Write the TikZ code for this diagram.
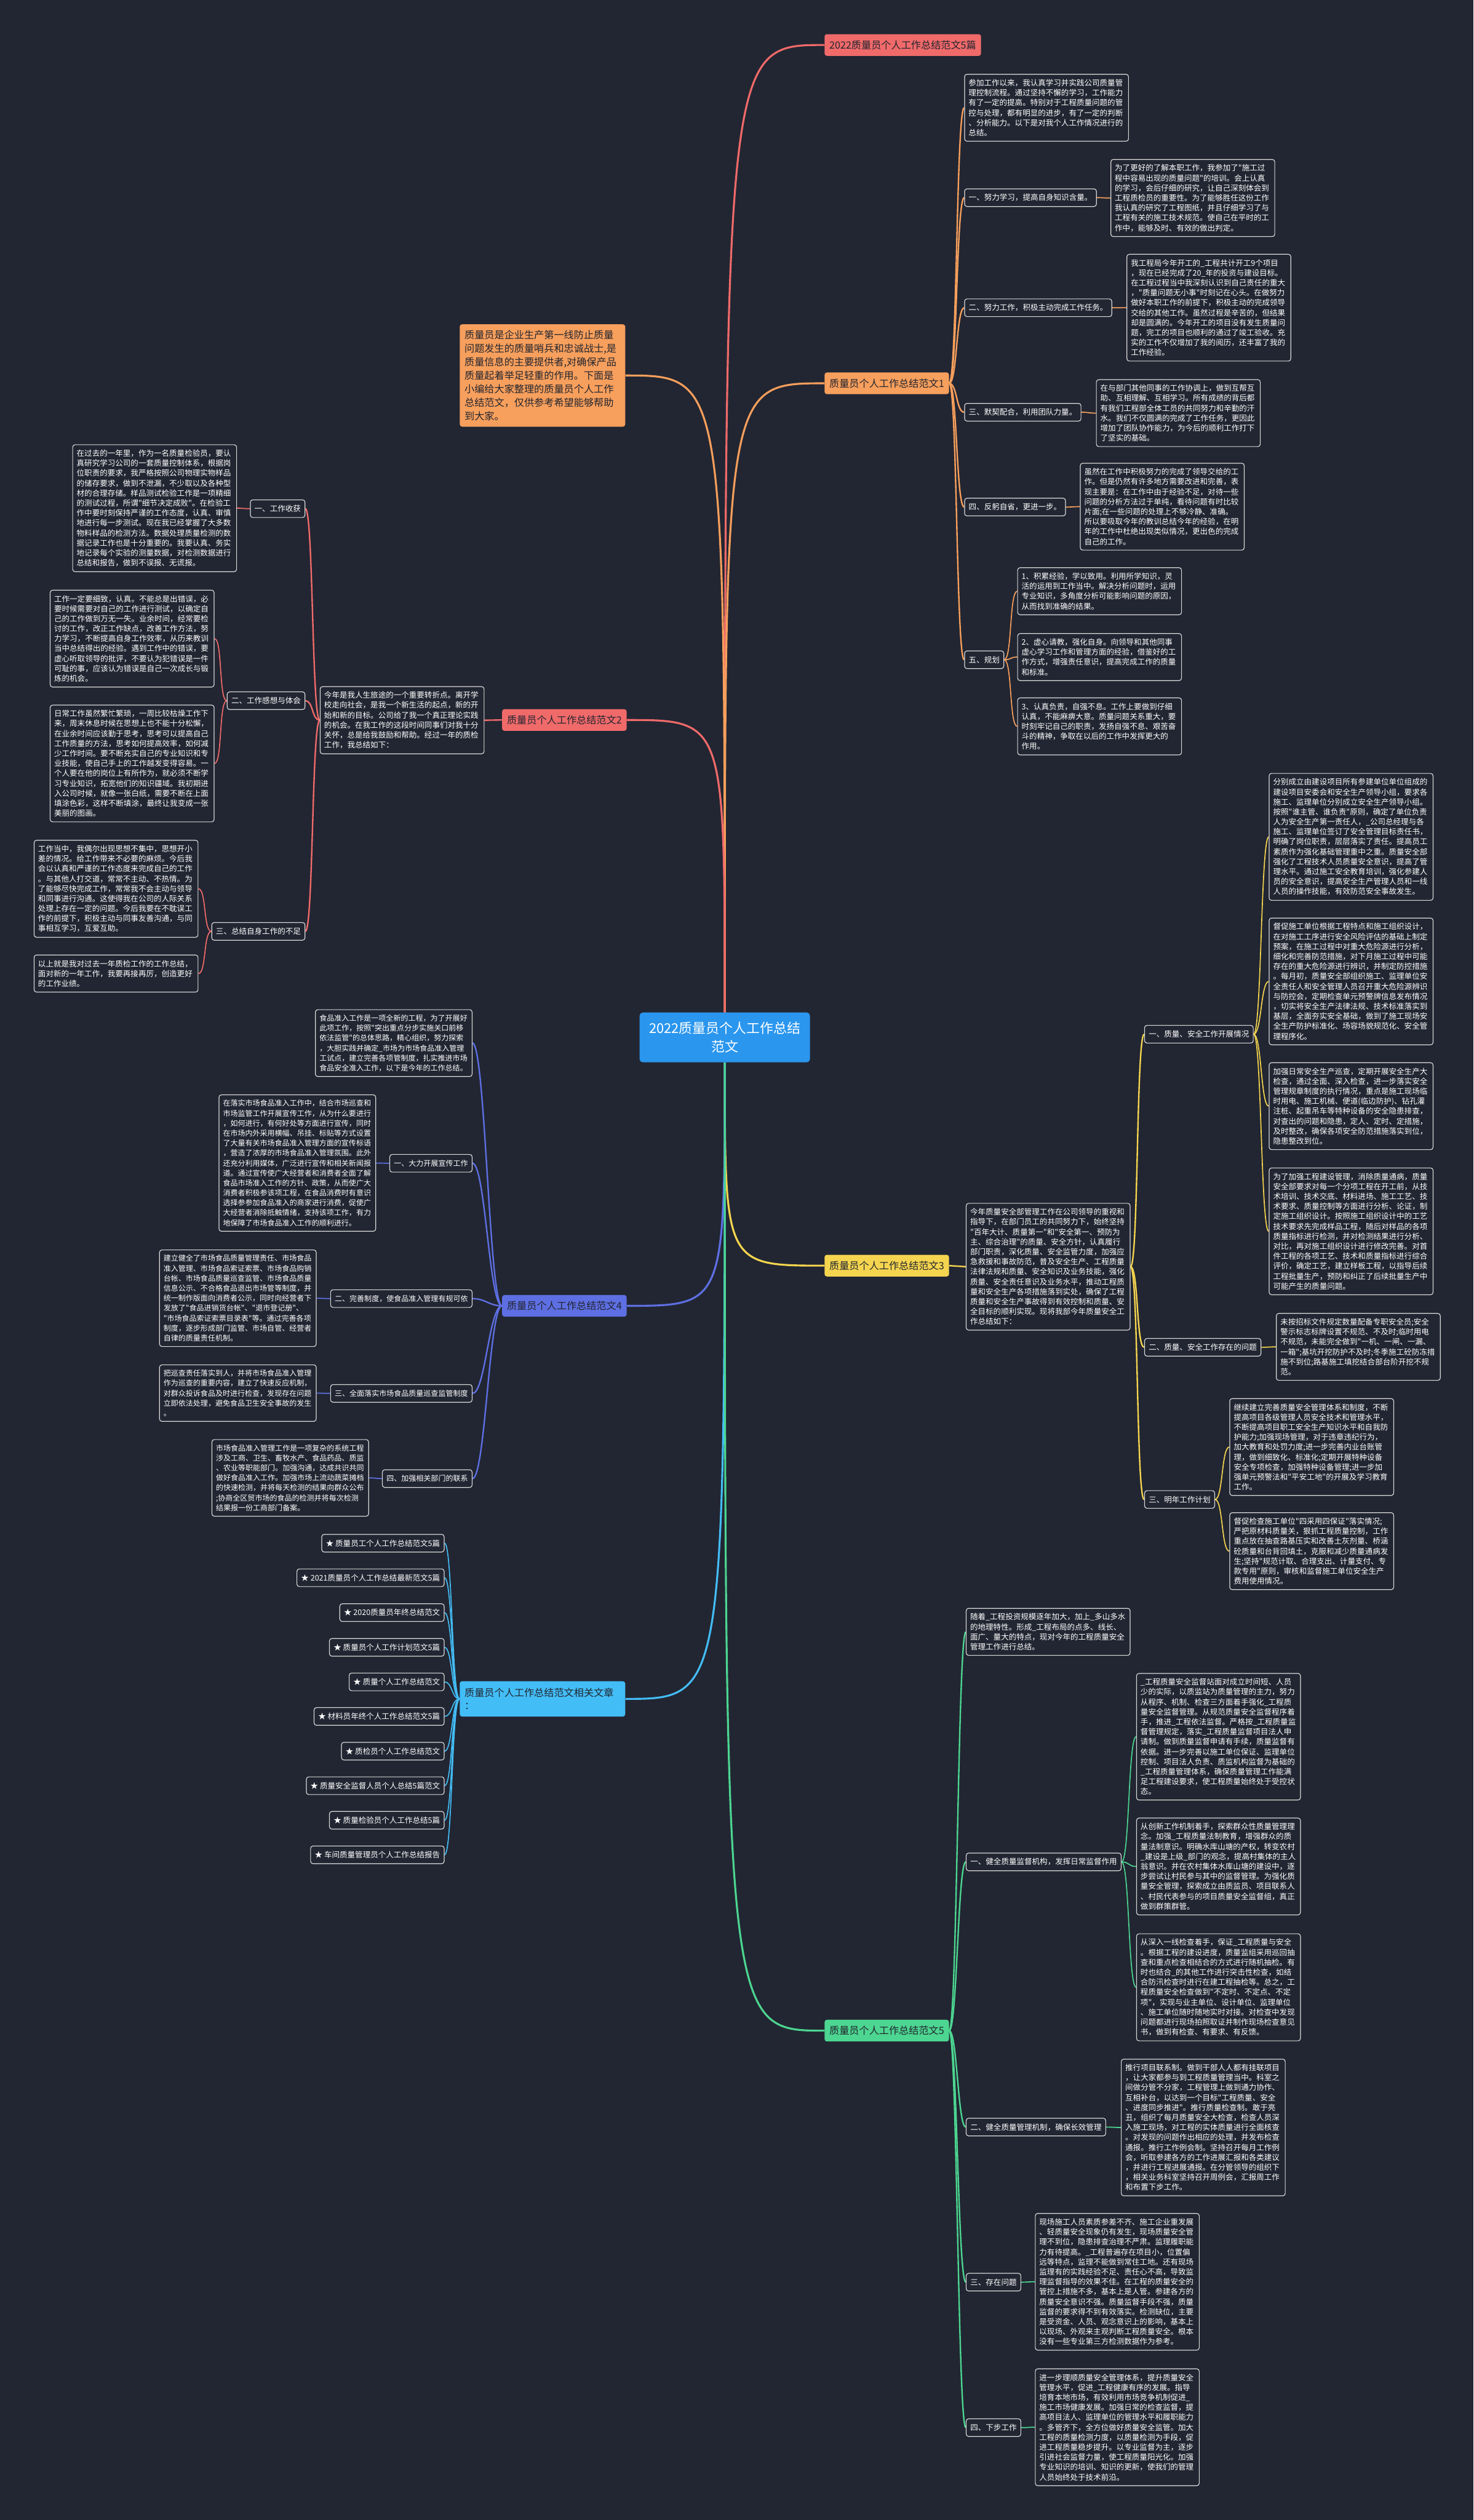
\documentclass[tikz,border=0pt]{standalone}
\usepackage{fontspec}
\setmainfont{Noto Sans CJK SC}[Ligatures=TeXOff]
\definecolor{bg}{HTML}{222632}
\definecolor{dk}{HTML}{22252F}
\definecolor{boxline}{HTML}{D8D8D8}
\definecolor{cred}{HTML}{F06A6A}
\definecolor{corange}{HTML}{F79F5C}
\definecolor{cyellow}{HTML}{F5D54F}
\definecolor{cblue}{HTML}{5E6FE3}
\definecolor{csky}{HTML}{43BDF6}
\definecolor{cgreen}{HTML}{4CD691}
\definecolor{croot}{HTML}{2A96EE}
\pgfdeclarelayer{back}
\pgfdeclarelayer{lines}
\pgfsetlayers{back,lines,main}
\newcommand\fs{\fontsize{13.66pt}{17.64pt}\selectfont}
\newcommand\fsb{\fontsize{13.1pt}{17.64pt}\selectfont}
\newcommand\fbr{\fontsize{17.6pt}{21pt}\selectfont}
\newcommand\fin{\fontsize{17.6pt}{23.8pt}\selectfont}
\newcommand\fce{\fontsize{23.9pt}{32.1pt}\selectfont}
\newcommand\frel{\fontsize{17.6pt}{23.3pt}\selectfont}
\newcommand\conR[3]{\draw[#1] (#2) .. controls +(5,0) and +(-5,0) .. (#3);}
\newcommand\conL[3]{\draw[#1] (#2) .. controls +(-5,0) and +(5,0) .. (#3);}
\newcommand\conLL[3]{\draw[#1] (#2) .. controls +(-8,0) and +(8,0) .. (#3);}
\tikzset{
 tb/.style={draw=boxline, line width=0.45mm, rounded corners=1.5mm, fill=bg, text=white, font=\fs, align=left, text width=97mm, inner xsep=2.5mm, inner ysep=3.1mm, anchor=north west},
 tbb/.style={tb, font=\fsb, text width=92.5mm},
 lb/.style={draw=boxline, line width=0.45mm, rounded corners=1.5mm, fill=bg, text=white, font=\fs, inner xsep=2.6mm, inner ysep=0mm, minimum height=11mm},
 lbb/.style={lb, font=\fsb},
 brn/.style={rounded corners=1.5mm, text=dk, font=\fbr, inner xsep=3mm, inner ysep=0mm, minimum height=13.5mm},
 rl/.style={line width=1.2mm},
 bl/.style={line width=0.9mm},
 sl/.style={line width=0.65mm}
}
\begin{document}
\begin{tikzpicture}[x=1mm,y=-1mm]
\begin{pgfonlayer}{back}
\fill[bg] (0,0) rectangle (917,1568);
\end{pgfonlayer}
\path[use as bounding box] (0,0) rectangle (917,1568);

% root and first level
\node[fill=croot, rounded corners=2mm, text=white, font=\fce, align=center, minimum width=106mm, minimum height=31mm] (root) at (451,645.5) {2022质量员个人工作总结\\范文};
\node[brn, fill=cred, anchor=west] (ttl) at (513,28) {2022质量员个人工作总结范文5篇};
\node[fill=corange, rounded corners=1.5mm, text=dk, font=\fin, align=left, text width=97mm, inner xsep=3mm, inner ysep=3.9mm, anchor=north west] (intro) at (286,201.7) {质量员是企业生产第一线防止质量\\问题发生的质量哨兵和忠诚战士,是\\质量信息的主要提供者,对确保产品\\质量起着举足轻重的作用。下面是\\小编给大家整理的质量员个人工作\\总结范文，仅供参考希望能够帮助\\到大家。};
\node[brn, fill=corange, anchor=west] (b1) at (513,238.5) {质量员个人工作总结范文1};
\node[brn, fill=cred, anchor=east] (b2) at (390,448) {质量员个人工作总结范文2};
\node[brn, fill=cyellow, anchor=west] (b3) at (513,787.5) {质量员个人工作总结范文3};
\node[brn, fill=cblue, anchor=east] (b4) at (390,812.5) {质量员个人工作总结范文4};
\node[brn, fill=csky, font=\frel, align=left, text width=97mm, minimum height=22mm, anchor=north west] (rel) at (286,1046) {质量员个人工作总结范文相关文章\\：};
\node[brn, fill=cgreen, anchor=west] (b5) at (513,1263.5) {质量员个人工作总结范文5};

% ---------- branch 1
\node[tb] (b1i) at (600,46) {参加工作以来，我认真学习并实践公司质量管\\理控制流程。通过坚持不懈的学习，工作能力\\有了一定的提高。特别对于工程质量问题的管\\控与处理，都有明显的进步，有了一定的判断\\、分析能力。以下是对我个人工作情况进行的\\总结。};
\node[lb, anchor=west] (b1l1) at (600,123) {一、努力学习，提高自身知识含量。};
\node[tb] (b1t1) at (691,99) {为了更好的了解本职工作，我参加了"施工过\\程中容易出现的质量问题"的培训。会上认真\\的学习，会后仔细的研究，让自己深刻体会到\\工程质检员的重要性。为了能够胜任这份工作\\我认真的研究了工程图纸，并且仔细学习了与\\工程有关的施工技术规范。使自己在平时的工\\作中，能够及时、有效的做出判定。};
\node[lb, anchor=west] (b1l2) at (600,191.5) {二、努力工作，积极主动完成工作任务。};
\node[tb] (b1t2) at (701,158) {我工程局今年开工的\_工程共计开工9个项目\\，现在已经完成了20\_年的投资与建设目标。\\在工程过程当中我深刻认识到自己责任的重大\\，"质量问题无小事"时刻记在心头。在做努力\\做好本职工作的前提下，积极主动的完成领导\\交给的其他工作。虽然过程是辛苦的，但结果\\却是圆满的。今年开工的项目没有发生质量问\\题，完工的项目也顺利的通过了竣工验收。充\\实的工作不仅增加了我的阅历，还丰富了我的\\工作经验。};
\node[lb, anchor=west] (b1l3) at (600,256.5) {三、默契配合，利用团队力量。};
\node[tb] (b1t3) at (682,236) {在与部门其他同事的工作协调上，做到互帮互\\助、互相理解、互相学习。所有成绩的背后都\\有我们工程部全体工员的共同努力和辛勤的汗\\水。我们不仅圆满的完成了工作任务，更因此\\增加了团队协作能力，为今后的顺利工作打下\\了坚实的基础。};
\node[lb, anchor=west] (b1l4) at (600,315.5) {四、反躬自省，更进一步。};
\node[tb] (b1t4) at (672,288) {虽然在工作中积极努力的完成了领导交给的工\\作。但是仍然有许多地方需要改进和完善，表\\现主要是：在工作中由于经验不足，对待一些\\问题的分析方法过于单纯，看待问题有时比较\\片面;在一些问题的处理上不够冷静、准确。\\所以要吸取今年的教训总结今年的经验，在明\\年的工作中杜绝出现类似情况，更出色的完成\\自己的工作。};
\node[lb, anchor=west] (b1l5) at (600,410.5) {五、规划};
\node[tb] (b1t51) at (633,353) {1、积累经验，学以致用。利用所学知识，灵\\活的运用到工作当中。解决分析问题时，运用\\专业知识，多角度分析可能影响问题的原因，\\从而找到准确的结果。};
\node[tb] (b1t52) at (633,394) {2、虚心请教，强化自身。向领导和其他同事\\虚心学习工作和管理方面的经验，借鉴好的工\\作方式，增强责任意识，提高完成工作的质量\\和标准。};
\node[tb] (b1t53) at (633,434) {3、认真负责，自强不息。工作上要做到仔细\\认真，不能麻痹大意。质量问题关系重大，要\\时刻牢记自己的职责，发扬自强不息、艰苦奋\\斗的精神，争取在以后的工作中发挥更大的\\作用。};

% ---------- branch 2
\node[tb] (b2i) at (199,427) {今年是我人生旅途的一个重要转折点。离开学\\校走向社会，是我一个新生活的起点，新的开\\始和新的目标。公司给了我一个真正理论实践\\的机会。在我工作的这段时间同事们对我十分\\关怀，总是给我鼓励和帮助。经过一年的质检\\工作，我总结如下：};
\node[lb, anchor=east] (b2l1) at (190,316.5) {一、工作收获};
\node[tb] (b2t1) at (45,276.5) {在过去的一年里，作为一名质量检验员，要认\\真研究学习公司的一套质量控制体系，根据岗\\位职责的要求，我严格按照公司物理实物样品\\的储存要求，做到不泄漏，不少取以及各种型\\材的合理存储。样品测试检验工作是一项精细\\的测试过程，所谓"细节决定成败"。在检验工\\作中要时刻保持严谨的工作态度，认真、审慎\\地进行每一步测试。现在我已经掌握了大多数\\物料样品的检测方法。数据处理质量检测的数\\据记录工作也是十分重要的。我要认真、务实\\地记录每个实验的测量数据，对检测数据进行\\总结和报告，做到不误报、无谎报。};
\node[lb, anchor=east] (b2l2) at (190,436) {二、工作感想与体会};
\node[tb] (b2t21) at (31,367) {工作一定要细致，认真。不能总是出错误，必\\要时候需要对自己的工作进行测试，以确定自\\己的工作做到万无一失。业余时间，经常要检\\讨的工作，改正工作缺点，改善工作方法，努\\力学习，不断提高自身工作效率，从历来教训\\当中总结得出的经验。遇到工作中的错误，要\\虚心听取领导的批评，不要认为犯错误是一件\\可耻的事，应该认为错误是自己一次成长与锻\\炼的机会。};
\node[tb] (b2t22) at (31,438.5) {日常工作虽然繁忙繁琐，一周比较枯燥工作下\\来，周末休息时候在思想上也不能十分松懈，\\在业余时间应该勤于思考，思考可以提高自己\\工作质量的方法，思考如何提高效率，如何减\\少工作时间。要不断充实自己的专业知识和专\\业技能，使自己手上的工作越发变得容易。一\\个人要在他的岗位上有所作为，就必须不断学\\习专业知识，拓宽他们的知识疆域。我初期进\\入公司时候，就像一张白纸，需要不断在上面\\填涂色彩，这样不断填涂，最终让我变成一张\\美丽的图画。};
\node[lb, anchor=east] (b2l3) at (190,579.5) {三、总结自身工作的不足};
\node[tb] (b2t31) at (21,522.6) {工作当中，我偶尔出现思想不集中，思想开小\\差的情况。给工作带来不必要的麻烦。今后我\\会以认真和严谨的工作态度来完成自己的工作\\。与其他人打交道，常常不主动、不热情。为\\了能够尽快完成工作，常常我不会主动与领导\\和同事进行沟通。这使得我在公司的人际关系\\处理上存在一定的问题。今后我要在不耽误工\\作的前提下，积极主动与同事友善沟通，与同\\事相互学习，互爱互助。};
\node[tb] (b2t32) at (21,594) {以上就是我对过去一年质检工作的工作总结，\\面对新的一年工作，我要再接再厉，创造更好\\的工作业绩。};

% ---------- branch 3
\node[tb] (b3i) at (601,748.5) {今年质量安全部管理工作在公司领导的重视和\\指导下，在部门员工的共同努力下，始终坚持\\"百年大计、质量第一"和"安全第一、预防为\\主、综合治理"的质量、安全方针，认真履行\\部门职责，深化质量、安全监管力度，加强应\\急救援和事故防范，普及安全生产、工程质量\\法律法规和质量、安全知识及业务技能，强化\\质量、安全责任意识及业务水平，推动工程质\\量和安全生产各项措施落到实处，确保了工程\\质量和安全生产事故得到有效控制和质量、安\\全目标的顺利实现。现将我部今年质量安全工\\作总结如下：};
\node[lb, anchor=west] (b3l1) at (712,643.5) {一、质量、安全工作开展情况};
\node[tb] (b3t11) at (789.5,481) {分别成立由建设项目所有参建单位单位组成的\\建设项目安委会和安全生产领导小组，要求各\\施工、监理单位分别成立安全生产领导小组。\\按照"谁主管、谁负责"原则，确定了单位负责\\人为安全生产第一责任人，\_公司总经理与各\\施工、监理单位签订了安全管理目标责任书，\\明确了岗位职责，层层落实了责任。提高员工\\素质作为强化基础管理重中之重。质量安全部\\强化了工程技术人员质量安全意识，提高了管\\理水平。通过施工安全教育培训，强化参建人\\员的安全意识，提高安全生产管理人员和一线\\人员的操作技能，有效防范安全事故发生。};
\node[tb] (b3t12) at (789.5,571) {督促施工单位根据工程特点和施工组织设计，\\在对施工工序进行安全风险评估的基础上制定\\预案，在施工过程中对重大危险源进行分析，\\细化和完善防范措施，对下月施工过程中可能\\存在的重大危险源进行辨识，并制定防控措施\\。每月初，质量安全部组织施工、监理单位安\\全责任人和安全管理人员召开重大危险源辨识\\与防控会，定期检查单元预警牌信息发布情况\\，切实将安全生产法律法规、技术标准落实到\\基层，全面夯实安全基础，做到了施工现场安\\全生产防护标准化、场容场貌规范化、安全管\\理程序化。};
\node[tb] (b3t13) at (789.5,661) {加强日常安全生产巡查，定期开展安全生产大\\检查，通过全面、深入检查，进一步落实安全\\管理规章制度的执行情况，重点是施工现场临\\时用电、施工机械、便道(临边防护)、钻孔灌\\注桩、起重吊车等特种设备的安全隐患排查，\\对查出的问题和隐患，定人、定时、定措施，\\及时整改，确保各项安全防范措施落实到位，\\隐患整改到位。};
\node[tb] (b3t14) at (789.5,726.5) {为了加强工程建设管理，消除质量通病，质量\\安全部要求对每一个分项工程在开工前，从技\\术培训、技术交底、材料进场、施工工艺、技\\术要求、质量控制等方面进行分析、论证，制\\定施工组织设计。按照施工组织设计中的工艺\\技术要求先完成样品工程，随后对样品的各项\\质量指标进行检测，并对检测结果进行分析、\\对比，再对施工组织设计进行修改完善。对首\\件工程的各项工艺、技术和质量指标进行综合\\评价，确定工艺，建立样板工程，以指导后续\\工程批量生产，预防和纠正了后续批量生产中\\可能产生的质量问题。};
\node[lb, anchor=west] (b3l2) at (712,838.3) {二、质量、安全工作存在的问题};
\node[tb] (b3t2) at (794,817) {未按招标文件规定数量配备专职安全员;安全\\警示标志标牌设置不规范、不及时;临时用电\\不规范，未能完全做到"一机、一闸、一漏、\\一箱";基坑开挖防护不及时;冬季施工砼防冻措\\施不到位;路基施工填挖结合部台阶开挖不规\\范。};
\node[lb, anchor=west] (b3l3) at (712,933) {三、明年工作计划};
\node[tb] (b3t31) at (765,870) {继续建立完善质量安全管理体系和制度，不断\\提高项目各级管理人员安全技术和管理水平，\\不断提高项目职工安全生产知识水平和自我防\\护能力;加强现场管理，对于违章违纪行为，\\加大教育和处罚力度;进一步完善内业台账管\\理，做到细致化、标准化;定期开展特种设备\\安全专项检查，加强特种设备管理;进一步加\\强单元预警法和"平安工地"的开展及学习教育\\工作。};
\node[tb] (b3t32) at (765,941) {督促检查施工单位"四采用四保证"落实情况;\\严把原材料质量关，狠抓工程质量控制，工作\\重点放在抽查路基压实和改善土灰剂量、桥涵\\砼质量和台背回填土，克服和减少质量通病发\\生;坚持"规范计取、合理支出、计量支付、专\\款专用"原则，审核和监督施工单位安全生产\\费用使用情况。};

% ---------- branch 4
\node[tbb, anchor=north east] (b4i) at (294,628) {食品准入工作是一项全新的工程，为了开展好\\此项工作，按照"突出重点分步实施关口前移\\依法监管"的总体思路，精心组织，努力探索\\，大胆实践并确定\_市场为市场食品准入管理\\工试点，建立完善各项管制度，扎实推进市场\\食品安全准入工作，以下是今年的工作总结。};
\node[lbb, anchor=east] (b4l1) at (294,723.8) {一、大力开展宣传工作};
\node[tbb, anchor=north east] (b4t1) at (234,681) {在落实市场食品准入工作中，结合市场巡查和\\市场监管工作开展宣传工作，从为什么要进行\\，如何进行，有何好处等方面进行宣传，同时\\在市场内外采用横幅、吊挂、标贴等方式设置\\了大量有关市场食品准入管理方面的宣传标语\\，营造了浓厚的市场食品准入管理氛围。此外\\还充分利用媒体，广泛进行宣传和相关新闻报\\道。通过宣传使广大经营者和消费者全面了解\\食品市场准入工作的方针、政策，从而使广大\\消费者积极参该项工程，在食品消费时有意识\\选择参参加食品准入的商家进行消费，促使广\\大经营者消除抵触情绪，支持该项工作，有力\\地保障了市场食品准入工作的顺利进行。};
\node[lbb, anchor=east] (b4l2) at (294,808) {二、完善制度，使食品准入管理有规可依};
\node[tbb, anchor=north east] (b4t2) at (197,777.5) {建立健全了市场食品质量管理责任、市场食品\\准入管理、市场食品索证索票、市场食品购销\\台帐、市场食品质量巡查监管、市场食品质量\\信息公示、不合格食品退出市场管等制度，并\\统一制作版面向消费者公示，同时向经营者下\\发放了"食品进销货台帐"、"退市登记册"、\\"市场食品索证索票目录表"等。通过完善各项\\制度，逐步形成部门监管、市场自管、经营者\\自律的质量责任机制。};
\node[lbb, anchor=east] (b4l3) at (294,867) {三、全面落实市场食品质量巡查监管制度};
\node[tbb, anchor=north east] (b4t3) at (197,849) {把巡查责任落实到人，并将市场食品准入管理\\作为巡查的重要内容，建立了快速反应机制，\\对群众投诉食品及时进行检查，发现存在问题\\立即依法处理，避免食品卫生安全事故的发生\\。};
\node[lbb, anchor=east] (b4l4) at (294,920) {四、加强相关部门的联系};
\node[tbb, anchor=north east] (b4t4) at (229.6,895.5) {市场食品准入管理工作是一项复杂的系统工程\\涉及工商、卫生、畜牧水产、食品药品、质监\\、农业等职能部门。加强沟通，达成共识共同\\做好食品准入工作。加强市场上流动蔬菜摊档\\的快速检测，并将每天检测的结果向群众公布\\;协商全区贸市场的食品的检测并将每次检测\\结果报一份工商部门备案。};

% ---------- related articles
\node[lb, anchor=east] (r1) at (276.6,960.2) {★ 质量员工个人工作总结范文5篇};
\node[lb, anchor=east] (r2) at (276.6,981.7) {★ 2021质量员个人工作总结最新范文5篇};
\node[lb, anchor=east] (r3) at (276.6,1003.4) {★ 2020质量员年终总结范文};
\node[lb, anchor=east] (r4) at (276.6,1025) {★ 质量员个人工作计划范文5篇};
\node[lb, anchor=east] (r5) at (276.6,1046.5) {★ 质量个人工作总结范文};
\node[lb, anchor=east] (r6) at (276.6,1068) {★ 材料员年终个人工作总结范文5篇};
\node[lb, anchor=east] (r7) at (276.6,1089.6) {★ 质检员个人工作总结范文};
\node[lb, anchor=east] (r8) at (276.6,1111.1) {★ 质量安全监督人员个人总结5篇范文};
\node[lb, anchor=east] (r9) at (276.6,1132.6) {★ 质量检验员个人工作总结5篇};
\node[lb, anchor=east] (r10) at (276.6,1154.1) {★ 车间质量管理员个人工作总结报告};

% ---------- branch 5
\node[tb] (b5i) at (601,1000.5) {随着\_工程投资规模逐年加大，加上\_多山多水\\的地理特性。形成\_工程布局的点多、线长、\\面广、量大的特点，现对今年的工程质量安全\\管理工作进行总结。};
\node[lb, anchor=west] (b5l1) at (601,1158.5) {一、健全质量监督机构，发挥日常监督作用};
\node[tb] (b5t11) at (707,1041) {\_工程质量安全监督站面对成立时间短、人员\\少的实际，以质监站为质量管理的主力，努力\\从程序、机制、检查三方面着手强化\_工程质\\量安全监督管理。从规范质量安全监督程序着\\手，推进\_工程依法监督。严格按\_工程质量监\\督管理规定，落实\_工程质量监督项目法人申\\请制。做到质量监督申请有手续，质量监督有\\依据。进一步完善以施工单位保证、监理单位\\控制、项目法人负责、质监机构监督为基础的\\\_工程质量管理体系，确保质量管理工作能满\\足工程建设要求，使工程质量始终处于受控状\\态。};
\node[tb] (b5t12) at (707,1131) {从创新工作机制着手，探索群众性质量管理理\\念。加强\_工程质量法制教育，增强群众的质\\量法制意识。明确水库山塘的产权，转变农村\\\_建设是上级\_部门的观念，提高村集体的主人\\翁意识。并在农村集体水库山塘的建设中，逐\\步尝试让村民参与其中的监督管理。为强化质\\量安全管理，探索成立由质监员、项目联系人\\、村民代表参与的项目质量安全监督组，真正\\做到群策群管。};
\node[tb] (b5t13) at (707,1203) {从深入一线检查着手，保证\_工程质量与安全\\。根据工程的建设进度，质量监组采用巡回抽\\查和重点检查相结合的方式进行随机抽检。有\\时也结合\_的其他工作进行突击性检查，如结\\合防汛检查时进行在建工程抽检等。总之，工\\程质量安全检查做到"不定时、不定点、不定\\项"，实现与业主单位、设计单位、监理单位\\、施工单位随时随地实时对接。对检查中发现\\问题都进行现场拍照取证并制作现场检查意见\\书，做到有检查、有要求、有反馈。};
\node[lb, anchor=west] (b5l2) at (601,1323.5) {二、健全质量管理机制，确保长效管理};
\node[tb] (b5t2) at (697.5,1281) {推行项目联系制。做到干部人人都有挂联项目\\，让大家都参与到工程质量管理当中。科室之\\间做分管不分家，工程管理上做到通力协作、\\互相补台，以达到一个目标"工程质量、安全\\、进度同步推进"。推行质量检查制。敢于亮\\丑，组织了每月质量安全大检查，检查人员深\\入施工现场，对工程的实体质量进行全面核查\\。对发现的问题作出相应的处理，并发布检查\\通报。推行工作例会制。坚持召开每月工作例\\会，听取参建各方的工作进展汇报和各类建议\\，并进行工程进展通报。在分管领导的组织下\\，相关业务科室坚持召开周例会，汇报周工作\\和布置下步工作。};
\node[lb, anchor=west] (b5l3) at (601,1420) {三、存在问题};
\node[tb] (b5t3) at (644,1377) {现场施工人员素质参差不齐、施工企业重发展\\、轻质量安全现象仍有发生，现场质量安全管\\理不到位，隐患排查治理不严肃。监理履职能\\力有待提高。\_工程普遍存在项目小，位置偏\\远等特点，监理不能做到常住工地。还有现场\\监理有的实践经验不足、责任心不高，导致监\\理监督指导的效果不佳。在工程的质量安全的\\管控上措施不多，基本上是人管。参建各方的\\质量安全意识不强。质量监督手段不强，质量\\监督的要求得不到有效落实。检测缺位，主要\\是受资金、人员、观念意识上的影响，基本上\\以现场、外观来主观判断工程质量安全。根本\\没有一些专业第三方检测数据作为参考。};
\node[lb, anchor=west] (b5l4) at (601,1510.5) {四、下步工作};
\node[tb] (b5t4) at (644,1473.7) {进一步理顺质量安全管理体系，提升质量安全\\管理水平，促进\_工程健康有序的发展。指导\\培育本地市场，有效利用市场竞争机制促进\_\\施工市场健康发展。加强日常的检查监督，提\\高项目法人、监理单位的管理水平和履职能力\\。多管齐下，全方位做好质量安全监管。加大\\工程的质量检测力度，以质量检测为手段，促\\进工程质量稳步提升。以专业监督为主，逐步\\引进社会监督力量，使工程质量阳光化。加强\\专业知识的培训、知识的更新，使我们的管理\\人员始终处于技术前沿。};

% ---------- connectors
\begin{pgfonlayer}{lines}
\draw[rl,cred] (root.north) .. controls (root.north |- ttl.west) .. (ttl.west);
\draw[rl,corange] (root.north) .. controls (root.north |- intro.east) .. (intro.east);
\draw[rl,corange] (root.north) .. controls (root.north |- b1.west) .. (b1.west);
\draw[rl,cred] (root.north) .. controls (root.north |- b2.east) .. (b2.east);
\draw[rl,cyellow] (root.south) .. controls (root.south |- b3.west) .. (b3.west);
\draw[rl,cblue] (root.south) .. controls (root.south |- b4.east) .. (b4.east);
\draw[rl,csky] (root.south) .. controls (root.south |- rel.east) .. (rel.east);
\draw[rl,cgreen] (root.south) .. controls (root.south |- b5.west) .. (b5.west);
% branch 1
\conR{bl,corange}{b1.east}{b1i.west}
\conR{bl,corange}{b1.east}{b1l1.west}
\conR{bl,corange}{b1.east}{b1l2.west}
\conR{bl,corange}{b1.east}{b1l3.west}
\conR{bl,corange}{b1.east}{b1l4.west}
\conR{bl,corange}{b1.east}{b1l5.west}
\conR{sl,corange}{b1l1.east}{b1t1.west}
\conR{sl,corange}{b1l2.east}{b1t2.west}
\conR{sl,corange}{b1l3.east}{b1t3.west}
\conR{sl,corange}{b1l4.east}{b1t4.west}
\conR{sl,corange}{b1l5.east}{b1t51.west}
\conR{sl,corange}{b1l5.east}{b1t52.west}
\conR{sl,corange}{b1l5.east}{b1t53.west}
% branch 2
\conL{bl,cred}{b2.west}{b2i.east}
\conL{bl,cred}{b2i.west}{b2l1.east}
\conL{bl,cred}{b2i.west}{b2l2.east}
\conL{bl,cred}{b2i.west}{b2l3.east}
\conL{sl,cred}{b2l1.west}{b2t1.east}
\conL{sl,cred}{b2l2.west}{b2t21.east}
\conL{sl,cred}{b2l2.west}{b2t22.east}
\conL{sl,cred}{b2l3.west}{b2t31.east}
\conL{sl,cred}{b2l3.west}{b2t32.east}
% branch 3
\conR{bl,cyellow}{b3.east}{b3i.west}
\conR{bl,cyellow}{b3i.east}{b3l1.west}
\conR{bl,cyellow}{b3i.east}{b3l2.west}
\conR{bl,cyellow}{b3i.east}{b3l3.west}
\conR{sl,cyellow}{b3l1.east}{b3t11.west}
\conR{sl,cyellow}{b3l1.east}{b3t12.west}
\conR{sl,cyellow}{b3l1.east}{b3t13.west}
\conR{sl,cyellow}{b3l1.east}{b3t14.west}
\conR{sl,cyellow}{b3l2.east}{b3t2.west}
\conR{sl,cyellow}{b3l3.east}{b3t31.west}
\conR{sl,cyellow}{b3l3.east}{b3t32.west}
% branch 4
\conLL{bl,cblue}{b4.west}{b4i.east}
\conLL{bl,cblue}{b4.west}{b4l1.east}
\conLL{bl,cblue}{b4.west}{b4l2.east}
\conLL{bl,cblue}{b4.west}{b4l3.east}
\conLL{bl,cblue}{b4.west}{b4l4.east}
\conL{sl,cblue}{b4l1.west}{b4t1.east}
\conL{sl,cblue}{b4l2.west}{b4t2.east}
\conL{sl,cblue}{b4l3.west}{b4t3.east}
\conL{sl,cblue}{b4l4.west}{b4t4.east}
% related
\conL{sl,csky}{rel.west}{r1.east}
\conL{sl,csky}{rel.west}{r2.east}
\conL{sl,csky}{rel.west}{r3.east}
\conL{sl,csky}{rel.west}{r4.east}
\conL{sl,csky}{rel.west}{r5.east}
\conL{sl,csky}{rel.west}{r6.east}
\conL{sl,csky}{rel.west}{r7.east}
\conL{sl,csky}{rel.west}{r8.east}
\conL{sl,csky}{rel.west}{r9.east}
\conL{sl,csky}{rel.west}{r10.east}
% branch 5
\conR{bl,cgreen}{b5.east}{b5i.west}
\conR{bl,cgreen}{b5.east}{b5l1.west}
\conR{bl,cgreen}{b5.east}{b5l2.west}
\conR{bl,cgreen}{b5.east}{b5l3.west}
\conR{bl,cgreen}{b5.east}{b5l4.west}
\conR{sl,cgreen}{b5l1.east}{b5t11.west}
\conR{sl,cgreen}{b5l1.east}{b5t12.west}
\conR{sl,cgreen}{b5l1.east}{b5t13.west}
\conR{sl,cgreen}{b5l2.east}{b5t2.west}
\conR{sl,cgreen}{b5l3.east}{b5t3.west}
\conR{sl,cgreen}{b5l4.east}{b5t4.west}
\end{pgfonlayer}
\end{tikzpicture}
\end{document}
